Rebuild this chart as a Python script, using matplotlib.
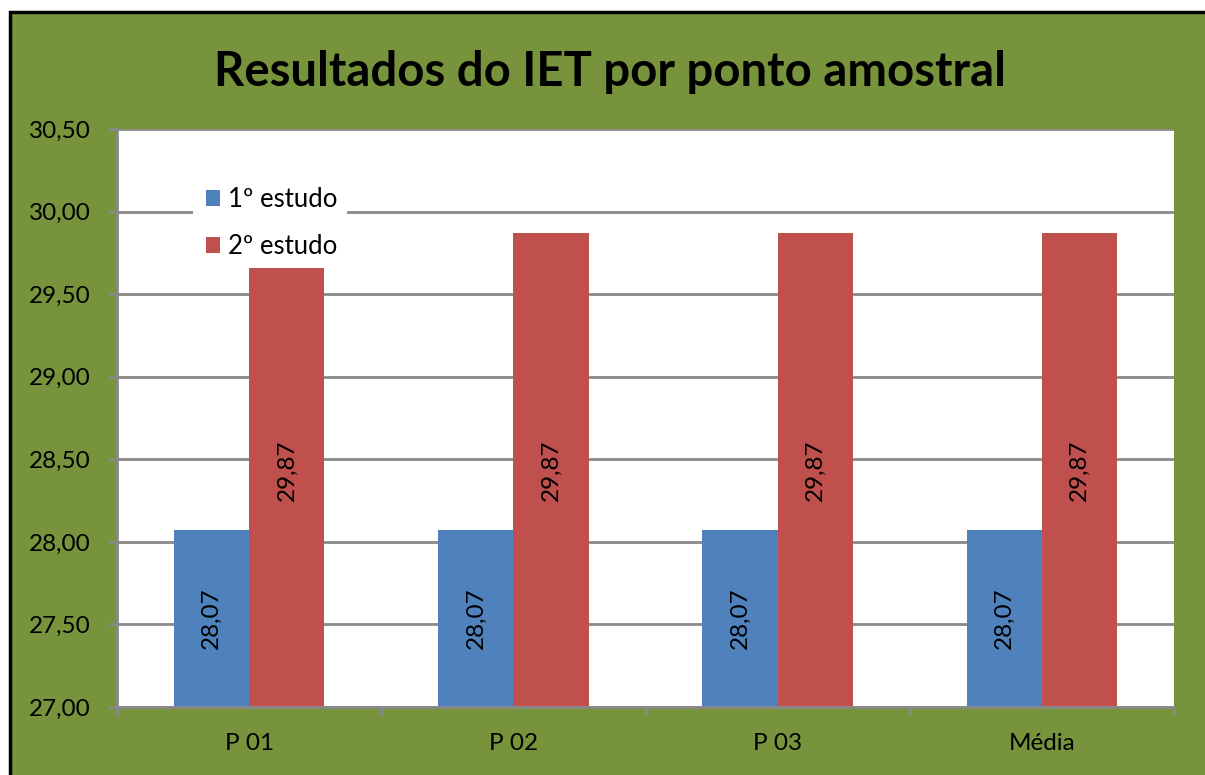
import matplotlib.pyplot as plt
from matplotlib.patches import Rectangle, Patch
from matplotlib.ticker import FixedLocator, FuncFormatter

# IET values per sampling point
categorias = ["P 01", "P 02", "P 03", "Média"]
estudo_1 = [28.07, 28.07, 28.07, 28.07]
estudo_2 = [29.87, 29.87, 29.87, 29.87]
series = ["1º estudo", "2º estudo"]

plt.rcParams['font.family'] = ['Lato', 'DejaVu Sans']

verde = "#77933C"
azul = "#4F81BD"
vermelho = "#C0504D"
cinza = "#898989"

W, H = 1205, 775
fig = plt.figure(figsize=(W / 100, H / 100), dpi=100, facecolor="white")

# green chart area with the black frame on top and left
fundo = Rectangle((9.5 / W, -0.1), 1.2, (H - 11.5) / H + 0.1,
                  transform=fig.transFigure, facecolor=verde,
                  edgecolor="black", linewidth=2.5, zorder=-1)
fig.patches.append(fundo)

x0, x1, y0, y1 = 117, 1174, 129, 707
ax = fig.add_axes([x0 / W, (H - y1) / H, (x1 - x0) / W, (y1 - y0) / H])
ax.set_zorder(1)
ax.set_facecolor("white")

x = range(len(categorias))
larg = 0.285
b1 = ax.bar([i - larg / 2 for i in x], estudo_1, larg, color=azul,
            zorder=2, label=series[0])
b2 = ax.bar([i + larg / 2 for i in x], estudo_2, larg, color=vermelho,
            zorder=2, label=series[1])

ax.set_ylim(27, 30.5)
ax.set_xlim(-0.5, len(categorias) - 0.5)

def virgula(v, pos=None):
    return f"{v:.2f}".replace(".", ",")

for barras in (b1, b2):
    for b in barras:
        h = b.get_height()
        ax.text(b.get_x() + b.get_width() / 2, (27 + h) / 2, virgula(h),
                rotation=90, ha="center", va="center", fontsize=17.5,
                color="black", zorder=3)

ax.yaxis.set_major_locator(FixedLocator([27 + 0.5 * k for k in range(8)]))
ax.yaxis.set_major_formatter(FuncFormatter(virgula))
ax.grid(axis="y", color=cinza, linewidth=2, zorder=1)
ax.set_axisbelow(True)

ax.set_xticks(list(x))
ax.set_xticklabels(categorias)
ax.set_xticks([i - 0.5 for i in range(len(categorias) + 1)], minor=True)
ax.tick_params(axis="x", which="major", length=0, pad=19, labelsize=17.5)
ax.tick_params(axis="x", which="minor", length=6, width=2, color=cinza)
ax.tick_params(axis="y", length=6, width=2, color=cinza, pad=13, labelsize=17.5)

for lado in ("top", "right"):
    ax.spines[lado].set_visible(False)
for lado in ("left", "bottom"):
    ax.spines[lado].set_color(cinza)
    ax.spines[lado].set_linewidth(2)

# white legend panel, drawn over the grid and the bars
def ax_x(px):
    return (px - x0) / (x1 - x0)

def ax_y(py):
    return (y1 - py) / (y1 - y0)

painel = Rectangle((ax_x(193), ax_y(268)), ax_x(347) - ax_x(193),
                   ax_y(170) - ax_y(268), transform=ax.transAxes,
                   facecolor="white", edgecolor="none", zorder=4)
ax.add_patch(painel)

leg = ax.legend(handles=[Patch(facecolor=azul, label=series[0]),
                         Patch(facecolor=vermelho, label=series[1])],
                loc="center left", bbox_to_anchor=(ax_x(206), ax_y(223)),
                frameon=False, fontsize=18.5, handlelength=0.55,
                handleheight=0.55, handletextpad=0.3, labelspacing=0.85,
                borderpad=0, borderaxespad=0)
leg.set_zorder(5)

fig.text(610 / W, (H - 72) / H, "Resultados do IET por ponto amostral",
         ha="center", va="center", fontsize=34, fontweight="bold")

fig.savefig("out.png", dpi=100, facecolor=fig.get_facecolor())
